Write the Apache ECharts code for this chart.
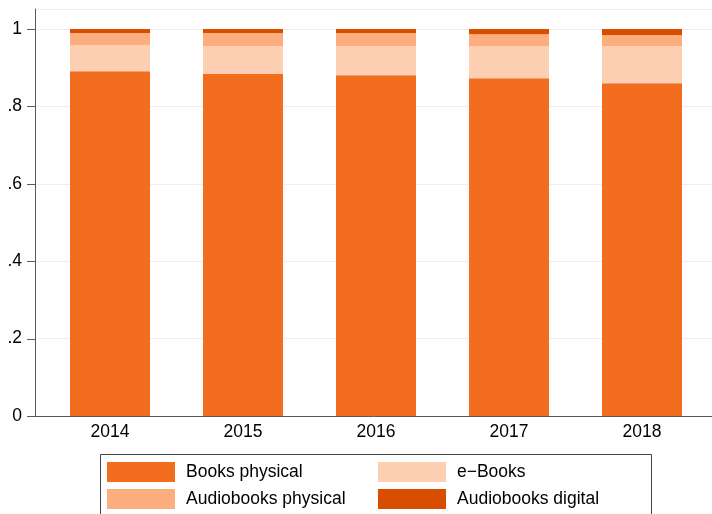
<!DOCTYPE html>
<html>
<head>
<meta charset="utf-8">
<script src="https://cdn.jsdelivr.net/npm/echarts@6/dist/echarts.min.js"></script>
<style>html,body{margin:0;padding:0;background:#fff}#c{width:712px;height:514px}</style>
</head>
<body>
<div id="c"></div>
<script>
var years = ['2014', '2015', '2016', '2017', '2018'];
var booksPhysical = [0.891, 0.884, 0.881, 0.873, 0.860];
var eBooks = [0.068, 0.072, 0.075, 0.082, 0.096];
var audioPhysical = [0.031, 0.034, 0.034, 0.032, 0.029];
var audioDigital = [0.010, 0.010, 0.010, 0.013, 0.015];
var yTicks = [0, 0.2, 0.4, 0.6, 0.8, 1];

var FONT = 'Liberation Sans';
var FS = 17.5;
var YMAX = 1.052;
var axisCol = '#5a5a5a';

function fmt(v) {
  if (Math.abs(v) < 1e-9) return '0';
  if (Math.abs(v - 1) < 1e-9) return '1';
  return String(+v.toFixed(1)).replace(/^0/, '');
}

var chart = echarts.init(document.getElementById('c'), null, {renderer: 'canvas'});
var names = ['Books physical', 'e\u2212Books', 'Audiobooks physical', 'Audiobooks digital'];
var colors = ['#F26D1E', '#FDCFB3', '#FDAE7E', '#D94D01'];
var vals = [booksPhysical, eBooks, audioPhysical, audioDigital];

var series = vals.map(function (d, i) {
  return {
    name: names[i], type: 'bar', stack: 'all', xAxisIndex: 1, yAxisIndex: 1,
    data: d, barWidth: 80, itemStyle: {color: colors[i]},
    emphasis: {disabled: true}
  };
});

chart.setOption({
  animation: false,
  textStyle: {fontFamily: FONT},
  grid: [
    {left: 35, right: 0, top: 9, bottom: 98},
    {left: 43.5, right: 3.5, top: 9, bottom: 98}
  ],
  xAxis: [
    {gridIndex: 0, type: 'value', min: 0, max: 1,
     axisLine: {show: true, lineStyle: {color: axisCol, width: 1}},
     axisTick: {show: false}, axisLabel: {show: false}, splitLine: {show: false}},
    {gridIndex: 1, type: 'category', data: years,
     axisLine: {show: false}, axisTick: {show: false},
     axisLabel: {color: '#000', fontSize: FS, fontFamily: FONT, margin: 7}}
  ],
  yAxis: [
    {gridIndex: 0, type: 'value', min: 0, max: YMAX, interval: 0.2,
     axisLine: {show: true, lineStyle: {color: axisCol, width: 1}},
     axisTick: {show: false},
     axisLabel: {color: '#000', fontSize: FS, fontFamily: FONT, margin: 13,
                 customValues: yTicks, formatter: fmt},
     splitLine: {show: true, showMinLine: false,
                 lineStyle: {color: '#eeeeee', width: 1}}},
    {gridIndex: 1, type: 'value', min: 0, max: YMAX, show: false,
     splitLine: {show: false}}
  ],
  legend: [
    {left: 107, top: 462, orient: 'vertical', itemWidth: 68, itemHeight: 20, itemGap: 7,
     padding: 0, icon: 'rect', data: [names[0], names[2]], selectedMode: false,
     textStyle: {fontSize: FS, fontFamily: FONT, color: '#000', lineHeight: 20, padding: [0, 0, 0, 6]}},
    {left: 378, top: 462, orient: 'vertical', itemWidth: 68, itemHeight: 20, itemGap: 7,
     padding: 0, icon: 'rect', data: [names[1], names[3]], selectedMode: false,
     textStyle: {fontSize: FS, fontFamily: FONT, color: '#000', lineHeight: 20, padding: [0, 0, 0, 6]}}
  ],
  series: series
});

// legend frame and y tick marks (tick positions from the axis scale)
var gfx = [
  {type: 'rect', shape: {x: 100.5, y: 454.5, width: 551, height: 80},
   style: {fill: 'none', stroke: '#444', lineWidth: 1}, silent: true, z: 100}
];
yTicks.forEach(function (v) {
  var p = chart.convertToPixel({xAxisIndex: 0, yAxisIndex: 0}, [0, v]);
  var y = Math.round(p[1]);
  gfx.push({type: 'rect', silent: true, z: 1000, zlevel: 1,
    shape: {x: Math.round(p[0]) - 8, y: y, width: 8, height: 1},
    style: {fill: axisCol}});
});
chart.setOption({graphic: gfx});
</script>
</body>
</html>
